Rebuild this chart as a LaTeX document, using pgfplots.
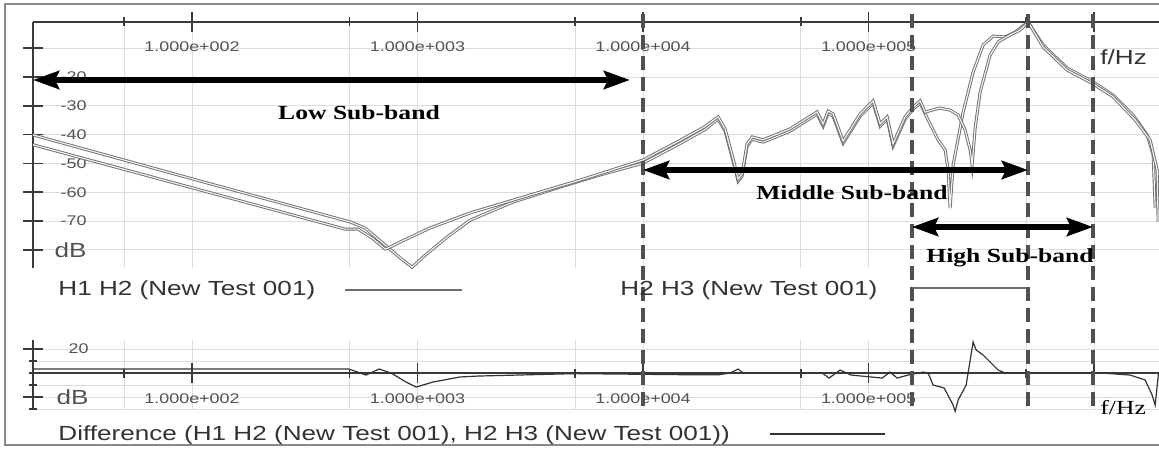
\documentclass[border=0pt]{standalone}
\usepackage{pgfplots}
\pgfplotsset{compat=1.18}
\usepackage{fontspec}
\setmainfont{Liberation Sans}
\newfontfamily\tickf[FakeStretch=1.28]{Liberation Sans}
\newfontfamily\bandf[FakeStretch=1.28]{Liberation Serif}
\usetikzlibrary{arrows.meta}
\definecolor{axc}{HTML}{3A3A3A}
\definecolor{gridc}{HTML}{DCDCDC}
\definecolor{curvec}{HTML}{6E6E6E}
\definecolor{dashc}{HTML}{505050}
\definecolor{txtc}{HTML}{333333}
\definecolor{framec}{HTML}{8A8A8A}

\begin{document}
\begin{tikzpicture}
% ---------- upper panel ----------
\begin{axis}[
  xmode=log, xmin=19.72, xmax=1.94e6,
  scale only axis, width=563pt, height=123pt,
  at={(16.5pt,92.5pt)}, anchor=south west,
  ymin=-86.3, ymax=-0.9,
  clip=false,
  axis x line=top, axis y line=left,
  axis line style={-, line width=1pt, axc},
  tick align=center, major tick length=10pt, minor tick length=4.5pt,
  tick style={line width=0.8pt, axc},
  grid style={line width=0.5pt, gridc},
  xtick={1e2,1e3,1e4,1e5,1e6},
  minor xtick={50,500,5000,50000,500000},
  xticklabels={1.000e+002,1.000e+003,1.000e+004,1.000e+005,{}},
  xmajorgrids, xminorgrids, ymajorgrids,
  ticklabel style={font=\tickf\fontsize{7}{8}\selectfont, text=txtc!85, inner sep=0pt},
  ytick={-80,-70,-60,-50,-40,-30,-20,-10},
  yticklabels={{\fontsize{10.2}{12}\selectfont dB},-70,-60,-50,-40,-30,-20,{}},
  xticklabel style={anchor=center, yshift=-17.5pt},
  yticklabel style={anchor=east, xshift=32pt},
]
% H1 H2
\addplot[curvec, line width=0.45pt, double=white!88!gray, double distance=0.6pt] coordinates {
(19.72,-40.1) (108.5,-56.1) (502,-70.3) (585,-72.4) (717.6,-78.3) (836.4,-82.8)
(945.4,-86.0) (1058,-82.5) (1351,-75.6) (1710,-69.7) (2652,-63.4) (4284,-58.2)
(6447,-54.0) (10000,-49.9)
(14590,-43.1) (18830,-38.2) (21510,-34.6) (23100,-38.8) (25070,-49.2) (26390,-56.2)
(27480,-54.4) (28920,-44.0) (30440,-41.6) (34050,-42.6) (44860,-38.8) (59080,-32.9)
(62850,-37.1) (66140,-32.6) (69600,-33.6) (77090,-43.0) (91690,-33.6) (104700,-29.1)
(112500,-37.1) (120800,-34.6) (128400,-44.0) (145200,-34.6) (157600,-31.2) (169200,-29.1)
(183600,-34.9) (203300,-41.9) (218400,-45.3) (225200,-52.3) (229800,-65.5) (237000,-50.6)
(262500,-32.2) (290700,-18.3) (321900,-8.9) (356600,-5.8) (403000,-6.1) (446400,-4.4)
(509600,-0.9) (594000,-8.9) (759300,-16.9) (989900,-21.7) (1214000,-26.3) (1489000,-33.2)
(1718000,-40.1) (1827000,-47.1) (1865000,-65.5)
};
% H2 H3
\addplot[curvec, line width=0.45pt, double=white!88!gray, double distance=0.6pt] coordinates {
(19.72,-43.5) (108.5,-59.2) (477,-72.8) (544.7,-72.8) (628.5,-75.9) (717.6,-79.7)
(740,-79.4) (770.6,-78.7) (836.4,-77.3) (1136,-72.4) (1710,-67.2) (2848,-62.0)
(5255,-55.8) (10000,-48.8)
(14590,-42.0) (18830,-37.2) (21510,-33.8) (23100,-38.0) (25070,-48.4) (26390,-55.4)
(27480,-53.6) (28920,-43.2) (30440,-40.8) (34050,-41.8) (44860,-38.0) (59080,-32.1)
(62850,-36.3) (66140,-31.8) (69600,-32.8) (77090,-42.2) (91690,-32.8) (104700,-28.3)
(112500,-36.3) (120800,-33.8) (128400,-43.2) (145200,-33.8) (157600,-30.4) (169200,-28.3)
(178100,-32.2) (191200,-31.5) (207600,-30.8) (229800,-31.5) (249500,-33.2) (267900,-38.4)
(281900,-45.3) (287700,-50.6) (296700,-37.7) (312300,-25.2) (345800,-12.4) (375300,-7.8)
(424200,-5.4) (469700,-3.7) (509600,-0.9) (594000,-9.6) (759300,-17.6) (989900,-22.4)
(1214000,-26.9) (1520000,-34.9) (1772000,-41.9) (1903000,-52.3) (1922000,-70.3)
};
\end{axis}
% ---------- lower panel ----------
\begin{axis}[
  xmode=log, xmin=19.72, xmax=1.94e6,
  scale only axis, width=563pt, height=35pt,
  at={(16.5pt,21.5pt)}, anchor=south west,
  ymin=-30.8, ymax=27.5,
  clip=false,
  axis x line=middle, axis y line=left,
  axis line style={-, line width=1pt, axc},
  tick align=center, major tick length=10pt, minor tick length=4.5pt,
  tick style={line width=0.8pt, axc},
  grid style={line width=0.5pt, gridc},
  xtick={1e2,1e3,1e4,1e5,1e6},
  minor xtick={50,500,5000,50000,500000},
  xticklabels={1.000e+002,1.000e+003,1.000e+004,1.000e+005,{}},
  xmajorgrids, xminorgrids, ymajorgrids, yminorgrids,
  ticklabel style={font=\tickf\fontsize{7}{8}\selectfont, text=txtc!85, inner sep=0pt},
  ytick={-20,20}, yticklabels={{\fontsize{10.2}{12}\selectfont dB},20},
  minor ytick={-30,-10,0,10},
  xticklabel style={anchor=center, yshift=-8pt},
  yticklabel style={anchor=east, xshift=33pt},
]
\addplot[txtc, line width=0.6pt] coordinates {
(19.72,3.3) (496.9,3.3) (591,-1.7) (675,3.3) (763,0) (889,-7.5) (985,-11.7)
(1171,-7.5) (1543,-3.3) (1874,-2.5) (4993,-0.5) (17010,-1.5) (21510,-1.5)
(24310,0) (26390,3.3) (27770,0) (62220,0) (66830,-4.2) (74730,2.5) (83640,-1.7)
(114800,-4.2) (124500,0.8) (133800,-4.2) (149700,-1.7) (174500,0.8) (183600,0)
(193200,-10) (216200,-12.5) (237000,-26.7) (241900,-32) (249500,-22.5) (270700,-10)
(290700,25.8) (299800,19.2) (321900,15) (375300,2.5) (403000,0) (1085000,0)
(1444000,-1.7) (1684000,-5.8) (1808000,-18.3) (1865000,-26.7) (1930000,0)
};
\end{axis}
% ---------- annotations (pixel frame: 1 px = 0.5pt, y downward) ----------
\begin{scope}[x=0.5pt,y=-0.5pt,yshift=226.5pt]
\draw[framec, line width=0.8pt] (5,4) rectangle (1190,445);
\foreach \xx in {643,912,1028,1093}
  \draw[dashc, line width=2pt, dash pattern=on 7pt off 3.5pt] (\xx,14) -- (\xx,413);
\draw[line width=3pt, {Stealth[length=13pt,width=9pt,inset=2pt]}-{Stealth[length=13pt,width=9pt,inset=2pt]}] (33,80) -- (630,80);
\draw[line width=3pt, {Stealth[length=13pt,width=9pt,inset=2pt]}-{Stealth[length=13pt,width=9pt,inset=2pt]}] (643,170) -- (1028,170);
\draw[line width=3pt, {Stealth[length=13pt,width=9pt,inset=2pt]}-{Stealth[length=13pt,width=9pt,inset=2pt]}] (912,227) -- (1093,227);
\node[font=\bandf\bfseries\fontsize{10}{12}\selectfont, inner sep=0pt] at (359,113) {Low Sub-band};
\node[font=\bandf\bfseries\fontsize{10}{12}\selectfont, inner sep=0pt] at (852,193) {Middle Sub-band};
\node[font=\bandf\bfseries\fontsize{10}{12}\selectfont, inner sep=0pt] at (1010,258) {High Sub-band};
\node[anchor=west, font=\tickf\fontsize{10.2}{12}\selectfont, text=txtc, inner sep=0pt] at (58,290) {H1 H2 (New Test 001)};
\draw[curvec, line width=0.8pt] (345,290) -- (462,290);
\node[anchor=west, font=\tickf\fontsize{10.2}{12}\selectfont, text=txtc, inner sep=0pt] at (620,290) {H2 H3 (New Test 001)};
\draw[curvec, line width=0.8pt] (913,288) -- (1027,288);
\node[anchor=west, font=\tickf\fontsize{10.2}{12}\selectfont, text=txtc, inner sep=0pt] at (58,435) {Difference (H1 H2 (New Test 001), H2 H3 (New Test 001))};
\draw[txtc, line width=0.8pt] (770,434) -- (885,434);
\node[anchor=west, font=\tickf\fontsize{10.2}{12}\selectfont, text=txtc, inner sep=0pt] at (1100,57) {f/Hz};
\node[anchor=west, font=\bandf\fontsize{10}{12}\selectfont, inner sep=0pt] at (1100,408) {f/Hz};
\end{scope}
\pgfresetboundingbox
\useasboundingbox (0,0) rectangle (579.5pt,226.5pt);
\end{tikzpicture}
\end{document}
